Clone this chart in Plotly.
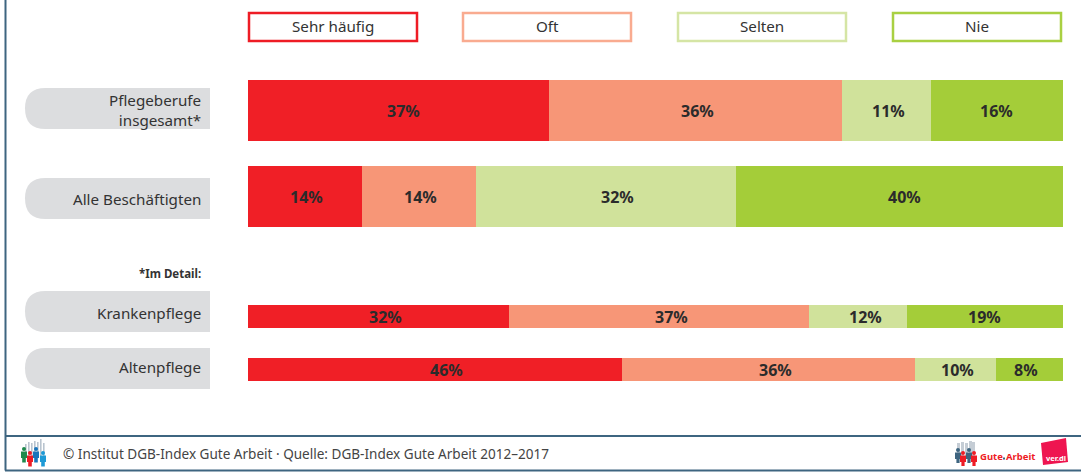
import plotly.graph_objects as go

W, H = 1081, 472

categories = ["Pflegeberufe<br>insgesamt*", "Alle Beschäftigten", "Krankenpflege", "Altenpflege"]
series_names = ["Sehr häufig", "Oft", "Selten", "Nie"]
sehr_haeufig = [36.9, 14.0, 32.0, 45.9]
oft = [36.0, 14.0, 36.8, 36.0]
selten = [10.9, 31.9, 12.0, 9.9]
nie = [16.2, 40.1, 19.2, 8.2]

colors = ["#F01F26", "#F79677", "#D0E29B", "#A4CD39"]
legend_border = ["#EE1C25", "#F9AB90", "#D5E5A5", "#A9D042"]
text_dark = "#2B2B2B"
label_font = "Noto Sans"
frame = "#3E6580"

bar_center = [110.5, 196.5, 316.5, 369.5]
bar_thick = [61, 61, 23, 23]
pill_top = [88, 178, 291, 348]
pill_h = 41
label_y = [109.5, 199, 313, 367]
legend_x = [249, 463, 678, 893]
legend_w = 168
# the reference places its percent labels a little off the segment centres (pixels, per row and series)
label_shift = [[5, 2, 2, 0], [1.5, 1.5, 11, 5], [7, 13, 8, 0], [11, 6.5, 1.5, -3.5]]

# x-axis: 0% at pixel 248, 100% at pixel 1063; y-axis runs in pixels from the top
x0, x100 = 248, 1063
unit = (x100 - x0) / 100
xr = [-x0 / unit, (W - x0) / unit]

fig = go.Figure()
values = [sehr_haeufig, oft, selten, nie]
for name, vals, col in zip(series_names, values, colors):
    fig.add_trace(go.Bar(
        name=name, x=vals, y=bar_center, width=bar_thick, orientation="h",
        marker=dict(color=col, line=dict(width=0)),
        showlegend=False, hoverinfo="skip"))

shapes, ann = [], []

# percent labels, anchored on the axes at the middle of each segment
for row, yc in enumerate(bar_center):
    cum = 0
    for s, vals in enumerate(values):
        v = vals[row]
        ann.append(dict(xref="x", yref="y", x=cum + v / 2 + label_shift[row][s] / unit, y=yc + 0.5,
                        text=f"{round(v)}%", showarrow=False, xanchor="center", yanchor="middle",
                        font=dict(family=label_font, size=16, color=text_dark, weight=700)))
        cum += v

def line(x1, y1, x2, y2, col=frame, w=2):
    shapes.append(dict(type="line", xref="paper", yref="paper", x0=x1 / W, x1=x2 / W,
                       y0=1 - y1 / H, y1=1 - y2 / H, line=dict(color=col, width=w)))

def P(x, y):
    return f"{x / W:.5f}", f"{1 - y / H:.5f}"

def path(d, fill, lw=0, lc=None):
    shapes.append(dict(type="path", xref="paper", yref="paper", path=d, fillcolor=fill,
                       line=dict(width=lw, color=lc or fill)))

def rect(x1, y1, x2, y2, fill):
    shapes.append(dict(type="rect", xref="paper", yref="paper", x0=x1 / W, x1=x2 / W,
                       y0=1 - y1 / H, y1=1 - y2 / H, fillcolor=fill, line=dict(width=0)))

def circ(cx, cy, r, fill):
    shapes.append(dict(type="circle", xref="paper", yref="paper", x0=(cx - r) / W, x1=(cx + r) / W,
                       y0=1 - (cy - r) / H, y1=1 - (cy + r) / H, fillcolor=fill, line=dict(width=0)))

def text(x, y, s, size=14, col="#333333", anchor="center", weight=400, **kw):
    ann.append(dict(xref="paper", yref="paper", x=x / W, y=1 - y / H, text=s, showarrow=False,
                    xanchor=anchor, yanchor="middle", align=anchor if anchor != "center" else "center",
                    font=dict(family=label_font, size=size, color=col, weight=weight), **kw))

# frame
line(5.5, 0, 5.5, 470.5, frame, 2)
line(5, 436, W, 436, frame, 2)
line(5, 470.5, W, 470.5, frame, 2)

# legend boxes
for x, name, c in zip(legend_x, series_names, legend_border):
    shapes.append(dict(type="rect", xref="paper", yref="paper", x0=x / W, x1=(x + legend_w) / W,
                       y0=1 - 13 / H, y1=1 - 41 / H, line=dict(color=c, width=2.5), fillcolor="white"))
    text(x + legend_w / 2, 25.5, name, 15.2, "#333333")

# category pills
for top, lab, ly in zip(pill_top, categories, label_y):
    r = pill_h / 2
    bot = top + pill_h
    d = "M {},{} L {},{} L {},{} Q {},{} {},{} Q {},{} {},{} Z".format(
        *P(210, top), *P(210, bot), *P(25 + r, bot),
        *P(25, bot), *P(25, top + r), *P(25, top), *P(25 + r, top))
    path(d, "#DCDDDF")
    text(203, ly, lab, 15.2, "#333333", anchor="right")

text(203, 273, "*Im Detail:", 11.5, "#333333", anchor="right", weight=700)

# footer text
text(61, 454, "© Institut DGB-Index Gute Arbeit · Quelle: DGB-Index Gute Arbeit 2012–2017", 13.55, "#444444", anchor="left")

# left logo
for x, t in zip([25, 28, 31, 34, 37, 40, 43], [444, 442, 443, 441, 442, 439, 443]):
    rect(x, t, x + 1.6, 458, "#B9C4CF")
for cx, cy, c in [(24, 449, "#1F8A4C"), (30, 453, "#EE1C25"), (36, 449, "#1B75BB"), (43, 453, "#1E9AD6")]:
    circ(cx, cy, 2, c)
    rect(cx - 3, cy + 2.5, cx + 3, cy + 9, c)
    rect(cx - 1.8, cy + 9, cx + 1.8, cy + 13.5, c)

# right logo
for x, t in zip([957, 961, 965, 969, 972], [443, 442, 443, 441, 442]):
    rect(x, t, x + 3, 456, "#C5CDD5")
for cx, cy, c in [(958, 450, "#3E6580"), (963, 453, "#EE1C25"), (969, 450, "#3E6580"), (974, 453, "#EE1C25")]:
    circ(cx, cy, 2, c)
    rect(cx - 3, cy + 2.5, cx + 3, cy + 9, c)
    rect(cx - 1.6, cy + 9, cx + 1.6, cy + 13, c)
text(978, 456.5, "Gute", 9.5, "#EE1C25", anchor="left", weight=700)
rect(1003, 457.5, 1005, 459.5, frame)
text(1004, 456.5, "Arbeit", 9.5, "#EE1C25", anchor="left", weight=700)
d = "M {},{} L {},{} L {},{} L {},{} Z".format(*P(1041, 443), *P(1066, 438), *P(1068, 462), *P(1043, 465))
path(d, "#EE1550")
text(1055.5, 457.5, "ver.di", 7.5, "white", weight=700)

fig.update_layout(
    width=W, height=H, autosize=False, barmode="stack", bargap=0,
    margin=dict(l=0, r=0, t=0, b=0), paper_bgcolor="white", plot_bgcolor="rgba(0,0,0,0)",
    xaxis=dict(range=xr, visible=False, fixedrange=True),
    yaxis=dict(range=[H, 0], visible=False, fixedrange=True),
    shapes=shapes, annotations=ann,
)
fig.write_html("out.html", config={"displayModeBar": False},
               post_script="document.body.style.margin='0';document.body.style.overflow='hidden';")
